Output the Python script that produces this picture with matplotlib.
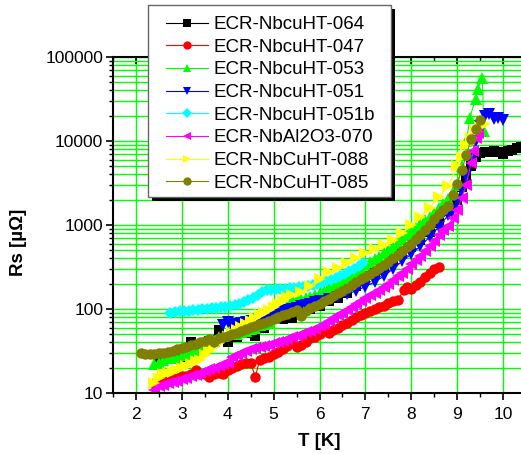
import matplotlib
matplotlib.use("Agg")
import matplotlib.pyplot as plt
from matplotlib.patches import Rectangle
from matplotlib.ticker import MultipleLocator, LogLocator, NullFormatter

plt.rcParams['font.family'] = ['Liberation Sans', 'DejaVu Sans']

# data (T in K, Rs in micro-ohm)
t_064 = [2.5, 2.6, 2.8, 3.0, 3.2, 3.4, 3.6, 3.8, 4.0, 4.2, 4.4, 4.6, 4.8, 5.0, 5.2, 5.4, 5.6, 5.8,
         6.0, 6.2, 6.4, 6.6, 6.8, 7.0, 7.2, 7.4, 7.6, 7.8, 8.0, 8.2, 8.4, 8.6, 8.8, 9.0, 9.1, 9.2,
         9.3, 9.4, 9.5, 9.6, 9.7, 9.8, 9.9, 10.0, 10.1, 10.2, 10.3, 10.4]
rs_064 = [25, 27, 26, 27, 40, 35, 42, 56, 40, 46, 52, 48, 60, 95, 75, 78, 90, 100,
          110, 125, 135, 155, 190, 250, 270, 310, 380, 450, 540, 660, 820, 1050, 1450, 2000, 2800, 3700,
          5000, 6400, 7200, 7300, 7400, 7600, 7400, 7000, 7600, 7900, 8200, 8400]

t_047 = [2.4, 2.5, 2.6, 2.7, 2.8, 2.9, 3.0, 3.1, 3.2, 3.3, 3.4, 3.5, 3.6, 3.7, 3.8, 3.9, 4.0, 4.1,
         4.2, 4.3, 4.4, 4.5, 4.6, 4.7, 4.8, 4.9, 5.0, 5.1, 5.2, 5.3, 5.4, 5.5, 5.6, 5.7, 5.8, 5.9,
         6.0, 6.1, 6.2, 6.3, 6.4, 6.5, 6.6, 6.7, 6.8, 6.9, 7.0, 7.1, 7.2, 7.3, 7.4, 7.5, 7.6, 7.7,
         7.85, 7.9, 8.0, 8.1, 8.2, 8.3, 8.4, 8.5, 8.6]
rs_047 = [13, 13, 14, 14, 15, 15, 16, 16, 17, 19, 17, 17, 15.5, 17, 17.5, 17, 19, 20,
          21, 22, 23, 23, 15.5, 25, 26, 27, 29, 31, 33, 36, 39, 35, 37, 41, 45, 47,
          50, 55, 52, 56, 60, 64, 68, 74, 80, 86, 90, 95, 100, 105, 110, 118, 125, 128,
          170, 183, 175, 193, 210, 240, 270, 300, 320]

t_053 = [2.4, 2.5, 2.6, 2.7, 2.8, 2.9, 3.0, 3.1, 3.2, 3.3, 3.4, 3.5, 3.6, 3.7, 3.8, 3.9, 4.0, 4.1,
         4.2, 4.3, 4.4, 4.5, 4.6, 4.7, 4.8, 4.9, 5.0, 5.1, 5.2, 5.3, 5.4, 5.5, 5.6, 5.7, 5.8, 5.9,
         6.0, 6.1, 6.2, 6.3, 6.4, 6.5, 6.6, 6.7, 6.8, 6.9, 7.0, 7.1, 7.2, 7.3, 7.4, 7.5, 7.6, 7.7,
         7.8, 7.9, 8.0, 8.1, 8.2, 8.3, 8.4, 8.5, 8.6, 8.7, 8.8, 8.9, 9.0, 9.1, 9.2, 9.28, 9.4, 9.45,
         9.55, 9.58]
rs_053 = [22, 23, 25, 26, 27, 26, 28, 29, 30, 32, 34, 36, 39, 42, 46, 48, 50, 50,
          51, 53, 55, 58, 60, 64, 67, 70, 78, 88, 97, 110, 128, 130, 133, 137, 140, 148,
          155, 165, 185, 195, 205, 222, 240, 262, 285, 310, 340, 365, 390, 420, 460, 500, 550, 610,
          680, 750, 840, 930, 1030, 1140, 1250, 1400, 1600, 1800, 2050, 2500, 3000, 5000, 10000, 19000, 32000, 42000,
          57000, 13000]

t_051 = [3.9, 4.0, 4.1, 4.2, 4.3, 4.4, 4.5, 4.6, 4.7, 4.8, 4.9, 5.0, 5.1, 5.2, 5.3, 5.4, 5.5, 5.6,
         5.7, 5.8, 5.9, 6.0, 6.2, 6.4, 6.6, 6.8, 7.0, 7.2, 7.4, 7.6, 7.8, 8.0, 8.2, 8.4, 8.6, 8.8,
         8.9, 9.0, 9.1, 9.2, 9.3, 9.4, 9.5, 9.6, 9.7, 9.8, 9.9, 10.0]
rs_051 = [65, 70, 62, 66, 68, 70, 72, 74, 77, 80, 84, 88, 92, 95, 98, 100, 104, 108,
          112, 116, 120, 124, 132, 140, 150, 165, 185, 210, 245, 300, 370, 450, 560, 720, 950, 1300,
          1500, 2000, 2600, 3800, 6000, 10000, 15000, 20000, 21000, 18500, 19000, 18000]

t_051b = [2.75, 2.85, 2.95, 3.05, 3.15, 3.25, 3.35, 3.45, 3.55, 3.65, 3.75, 3.85, 3.95, 4.05, 4.15,
          4.25, 4.35, 4.45, 4.55, 4.65, 4.75, 4.85, 4.95, 5.05, 5.15, 5.25, 5.35, 5.45, 5.55, 5.65,
          5.75, 5.85, 5.95, 6.05, 6.15, 6.25, 6.35, 6.45, 6.55, 6.65, 6.75, 6.85, 6.95]
rs_051b = [90, 92, 94, 95, 95, 97, 98, 99, 100, 102, 103, 105, 107, 109, 112,
           116, 122, 128, 136, 148, 160, 168, 170, 172, 174, 175, 177, 178, 181, 185,
           190, 194, 198, 205, 213, 222, 232, 245, 260, 280, 300, 325, 350]

t_070 = [2.4, 2.5, 2.6, 2.7, 2.8, 2.9, 3.0, 3.1, 3.2, 3.3, 3.4, 3.5, 3.6, 3.7, 3.8, 3.9, 4.0, 4.1,
         4.2, 4.3, 4.4, 4.5, 4.6, 4.7, 4.8, 4.9, 5.0, 5.1, 5.2, 5.3, 5.4, 5.5, 5.6, 5.7, 5.8, 5.9,
         6.0, 6.1, 6.2, 6.3, 6.4, 6.5, 6.6, 6.7, 6.8, 6.9, 7.0, 7.1, 7.2, 7.3, 7.4, 7.5, 7.6, 7.7,
         7.8, 7.9, 8.0, 8.1, 8.2, 8.3, 8.4, 8.5, 8.6, 8.7, 8.8, 8.9, 9.0, 9.1, 9.2, 9.3, 9.35, 9.4,
         9.45]
rs_070 = [11, 12, 12.5, 13, 13.5, 14, 14.5, 15, 16, 16.5, 17.5, 18.5, 19.5, 20, 21, 22, 23, 27,
          28, 30, 32, 33, 34, 35, 36, 37, 39, 40, 42, 44, 46, 48, 50, 53, 55, 58,
          62, 67, 72, 78, 84, 90, 97, 105, 115, 125, 135, 145, 155, 168, 182, 200, 220, 245,
          270, 300, 340, 380, 430, 490, 560, 650, 750, 870, 980, 1200, 1500, 2100, 3000, 5500, 7500, 11000,
          12500]

t_088 = [2.4, 2.5, 2.6, 2.7, 2.8, 2.9, 3.0, 3.1, 3.2, 3.3, 3.4, 3.5, 3.6, 3.7, 3.8, 3.9, 4.0, 4.1,
         4.2, 4.3, 4.4, 4.5, 4.6, 4.7, 4.8, 4.9, 5.0, 5.1, 5.2, 5.3, 5.4, 5.6, 5.8, 6.0, 6.2, 6.4,
         6.6, 6.8, 7.0, 7.2, 7.4, 7.6, 7.8, 8.0, 8.2, 8.4, 8.6, 8.8, 9.0, 9.1, 9.2, 9.3, 9.4, 9.5,
         9.6]
rs_088 = [13, 15, 17, 17.5, 18, 19, 20, 21, 22, 24, 25, 28, 32, 35, 39, 43, 47, 52,
          56, 61, 66, 72, 78, 84, 90, 97, 105, 115, 125, 140, 145, 160, 190, 230, 275, 310,
          350, 410, 460, 520, 580, 660, 800, 1000, 1250, 1600, 2150, 2900, 5000, 6500, 9000, 11000, 13000, 14500,
          16000]

t_085 = [2.1, 2.2, 2.3, 2.4, 2.5, 2.6, 2.7, 2.8, 2.9, 3.0, 3.1, 3.2, 3.3, 3.4, 3.5, 3.6, 3.7, 3.8,
         3.9, 4.0, 4.1, 4.2, 4.3, 4.4, 4.5, 4.6, 4.7, 4.8, 4.9, 5.0, 5.1, 5.2, 5.3, 5.4, 5.5, 5.6,
         5.7, 5.8, 5.9, 6.0, 6.1, 6.2, 6.3, 6.4, 6.5, 6.6, 6.7, 6.8, 6.9, 7.0, 7.1, 7.2, 7.3, 7.4,
         7.5, 7.6, 7.7, 7.8, 7.9, 8.0, 8.1, 8.2, 8.3, 8.4, 8.5, 8.6, 8.7, 8.8, 8.9, 9.0, 9.1, 9.2,
         9.3, 9.4, 9.5]
rs_085 = [30, 29, 29, 29, 30, 30, 31, 32, 33, 34, 35, 37, 38, 40, 42, 44, 40, 45,
          47, 48, 50, 52, 55, 58, 61, 63, 66, 68, 72, 76, 80, 84, 88, 93, 97, 82,
          95, 102, 108, 115, 124, 133, 143, 153, 165, 178, 192, 207, 225, 243, 262, 284, 308, 335,
          365, 400, 440, 485, 540, 600, 680, 770, 880, 1010, 1170, 1360, 1500, 1700, 2300, 3100, 4500, 6800,
          10500, 14000, 18000]

series = [
    ("ECR-NbcuHT-064", t_064, rs_064, "black", "s"),
    ("ECR-NbcuHT-047", t_047, rs_047, "#ff0000", "o"),
    ("ECR-NbcuHT-053", t_053, rs_053, "#00ff00", "^"),
    ("ECR-NbcuHT-051", t_051, rs_051, "#0000ff", "v"),
    ("ECR-NbcuHT-051b", t_051b, rs_051b, "#00ffff", "D"),
    ("ECR-NbAl2O3-070", t_070, rs_070, "#ff00ff", "<"),
    ("ECR-NbCuHT-088", t_088, rs_088, "#ffff00", ">"),
    ("ECR-NbCuHT-085", t_085, rs_085, "#808000", "o"),
]

W, H = 521, 454
fig = plt.figure(figsize=(W / 100, H / 100), dpi=100)
ax = fig.add_axes([113 / W, (H - 393) / H, (526 - 113) / W, 336 / H])

lines = []
for name, t, rs, col, mk in series:
    ms = {"D": 6.5, "s": 6.5, "o": 7.5}.get(mk, 8)
    ln, = ax.plot(t, rs, color=col, marker=mk, markersize=ms, linewidth=0.8,
                  markeredgewidth=0, label=name)
    lines.append(ln)

ax.set_yscale("log")
ax.set_xlim(1.5, 10.5)
ax.set_ylim(10, 100000)
ax.set_xticks(range(2, 11))
ax.xaxis.set_minor_locator(MultipleLocator(0.5))
ax.set_yticks([10, 100, 1000, 10000, 100000], ["10", "100", "1000", "10000", "100000"])
ax.yaxis.set_minor_locator(LogLocator(base=10, subs=range(2, 10)))
ax.yaxis.set_minor_formatter(NullFormatter())

ax.grid(True, which="major", axis="x", color="#00ff00", linewidth=1.0)
ax.grid(True, which="both", axis="y", color="#00ff00", linewidth=1.0)
ax.set_axisbelow(True)

for s in ax.spines.values():
    s.set_linewidth(1.5)
ax.tick_params(axis="both", which="major", labelsize=12.5, width=1.2, length=5)
ax.tick_params(axis="both", which="minor", width=1.0, length=3)
ax.tick_params(axis="x", which="both", direction="out", top=True)
ax.tick_params(axis="y", which="both", direction="out", pad=2)
ax.tick_params(axis="x", which="major", pad=5)

ax.set_xlabel("T [K]", fontsize=13.5, fontweight="bold", labelpad=8)
ax.set_ylabel("Rs [µΩ]", fontsize=13.5, fontweight="bold", labelpad=8)
ax.yaxis.set_label_coords(-86 / 413, (393 - 242) / 336)

# top ticks point inward
for tk in ax.xaxis.get_major_ticks() + ax.xaxis.get_minor_ticks():
    tk.tick2line.set_marker(3)

# legend box with shadow
fig.patches.append(Rectangle((152 / W, (H - 201) / H), (391 - 148) / W, (197 - 5) / H,
                             transform=fig.transFigure, facecolor="black", edgecolor="none", zorder=1))
fig.patches.append(Rectangle((148 / W, (H - 197) / H), (391 - 148) / W, (197 - 5) / H,
                             transform=fig.transFigure, facecolor="white", edgecolor="#666666",
                             linewidth=1.0, zorder=2))
fig.legend(handles=lines, loc="upper left", bbox_to_anchor=(166 / W, 1 - 16 / H),
           bbox_transform=fig.transFigure, frameon=False, borderpad=0, borderaxespad=0,
           handlelength=2.25, handletextpad=0.27, labelspacing=0.295, fontsize=13.5,
           markerscale=0.8)

fig.savefig("out.png", dpi=100)
